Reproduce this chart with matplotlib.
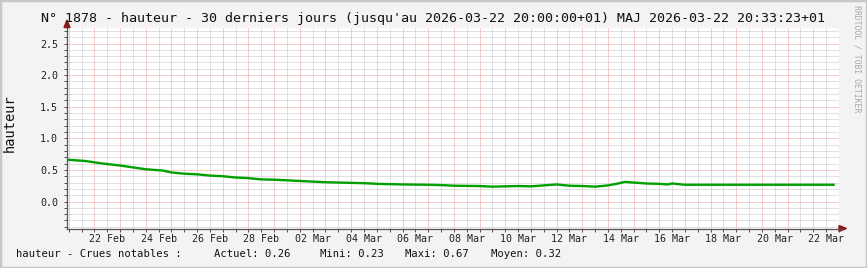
import datetime as dt

import matplotlib
matplotlib.use("Agg")
import matplotlib.pyplot as plt
import matplotlib.dates as mdates
from matplotlib.patches import Polygon, Rectangle
from matplotlib.ticker import MultipleLocator, FuncFormatter

# water level readings (local time)
times = [
    "2026-02-20 20:00", "2026-02-21 00:00", "2026-02-21 08:00", "2026-02-21 16:00",
    "2026-02-22 00:00", "2026-02-22 08:00", "2026-02-22 16:00", "2026-02-23 00:00",
    "2026-02-23 08:00", "2026-02-23 16:00", "2026-02-24 00:00", "2026-02-24 08:00",
    "2026-02-24 16:00", "2026-02-25 00:00", "2026-02-25 12:00", "2026-02-26 00:00",
    "2026-02-26 12:00", "2026-02-27 00:00", "2026-02-27 12:00", "2026-02-28 00:00",
    "2026-02-28 12:00", "2026-03-01 00:00", "2026-03-01 12:00", "2026-03-02 00:00",
    "2026-03-02 12:00", "2026-03-03 00:00", "2026-03-03 12:00", "2026-03-04 00:00",
    "2026-03-04 12:00", "2026-03-05 00:00", "2026-03-05 12:00", "2026-03-06 00:00",
    "2026-03-07 00:00", "2026-03-07 12:00", "2026-03-08 00:00", "2026-03-09 00:00",
    "2026-03-09 12:00", "2026-03-10 00:00", "2026-03-10 12:00", "2026-03-11 00:00",
    "2026-03-11 12:00", "2026-03-12 00:00", "2026-03-12 12:00", "2026-03-13 00:00",
    "2026-03-13 12:00", "2026-03-14 00:00", "2026-03-14 08:00", "2026-03-14 16:00",
    "2026-03-15 00:00", "2026-03-15 12:00", "2026-03-16 00:00", "2026-03-16 08:00",
    "2026-03-16 12:00", "2026-03-17 00:00", "2026-03-22 20:00",
]
hauteur = [
    0.67, 0.66, 0.65, 0.64,
    0.62, 0.60, 0.585, 0.57,
    0.55, 0.53, 0.51, 0.50,
    0.49, 0.46, 0.44, 0.43,
    0.41, 0.40, 0.38, 0.37,
    0.35, 0.345, 0.335, 0.325,
    0.315, 0.305, 0.30, 0.295,
    0.29, 0.28, 0.275, 0.27,
    0.265, 0.26, 0.25, 0.245,
    0.235, 0.24, 0.245, 0.24,
    0.255, 0.27, 0.25, 0.245,
    0.235, 0.255, 0.28, 0.31,
    0.30, 0.285, 0.28, 0.27,
    0.285, 0.265, 0.265,
]
stats_labels = ["Actuel: 0.26", "Mini: 0.23", "Maxi: 0.67", "Moyen: 0.32"]

W, H = 867, 268
MONO = "DejaVu Sans Mono"
BG = "#F3F3F3"


def fx(x):
    return x / W


def fy(y):
    return 1 - y / H


t = [dt.datetime.strptime(s, "%Y-%m-%d %H:%M") for s in times]

fig = plt.figure(figsize=(W / 100, H / 100), dpi=100, facecolor=BG)
ax = fig.add_axes([fx(67), fy(228.5), (839 - 67) / W, (228.5 - 27.7) / H])
ax.set_facecolor("white")

ax.plot(t, hauteur, color="#00A000", lw=1.7, solid_capstyle="butt", zorder=3)

ax.set_xlim(dt.datetime(2026, 2, 20, 22, 24), dt.datetime(2026, 3, 23, 0, 0))
ax.set_ylim(-0.427, 2.75)

# grid: red every day / 0.5, grey every 12h / 0.1
ax.xaxis.set_major_locator(mdates.HourLocator(byhour=[0]))
ax.xaxis.set_minor_locator(mdates.HourLocator(byhour=[12]))
ax.xaxis.set_major_formatter(FuncFormatter(lambda v, p: ""))


def day_label(v, p):
    d = mdates.num2date(v)
    return d.strftime("%d %b") if d.day % 2 == 0 else ""


ax.xaxis.set_minor_formatter(FuncFormatter(day_label))
ax.yaxis.set_major_locator(MultipleLocator(0.5))
ax.yaxis.set_minor_locator(MultipleLocator(0.1))
ax.yaxis.set_major_formatter(FuncFormatter(lambda v, p: f"{v:.1f}"))

dots = (0, (1, 1))
ax.grid(which="minor", color="#C4C4C4", lw=0.72, ls=dots)
ax.grid(which="major", color="#F09A9A", lw=0.72, ls=dots)
ax.set_axisbelow(True)

ax.tick_params(which="both", direction="out", length=2, width=0.72, color="#505050")
ax.tick_params(axis="x", which="minor", labelsize=7.2, pad=2.2, labelcolor="#222222")
ax.tick_params(axis="y", which="major", labelsize=7.2, pad=4.5, labelcolor="#222222")
for lab in ax.get_xticklabels(minor=True) + ax.get_yticklabels():
    lab.set_family(MONO)

for side in ("top", "right"):
    ax.spines[side].set_visible(False)
for side in ("left", "bottom"):
    ax.spines[side].set_color("#555555")
    ax.spines[side].set_linewidth(0.9)

# axis arrows
fig.patches.append(Polygon([[fx(64), fy(27.5)], [fx(70), fy(27.5)], [fx(67), fy(20)]],
                           closed=True, transform=fig.transFigure, color="#8B1A1A"))
fig.add_artist(plt.Line2D([fx(839), fx(842)], [fy(228.5), fy(228.5)],
                          transform=fig.transFigure, color="#555555", lw=0.9))
fig.patches.append(Polygon([[fx(839), fy(225.5)], [fx(839), fy(231.5)], [fx(846.5), fy(228.5)]],
                           closed=True, transform=fig.transFigure, color="#8B1A1A"))

# texts
fig.text(fx(433), fy(22), "N° 1878 - hauteur - 30 derniers jours (jusqu'au 2026-03-22 20:00:00+01) "
         "MAJ 2026-03-22 20:33:23+01", family=MONO, fontsize=9.6, ha="center",
         va="baseline", color="#111111")
fig.text(fx(10), fy(123), "hauteur", family=MONO, fontsize=9.8, rotation=90,
         ha="center", va="center", color="#111111")
fig.text(fx(857), fy(5), "RRDTOOL / TOBI OETIKER", family=MONO, fontsize=5.9,
         rotation=270, ha="center", va="top", color="#A8A8A8")

fig.text(fx(16), fy(257), "hauteur - Crues notables :", family=MONO, fontsize=7.6,
         va="baseline", color="#111111")
for xpos, s in zip([214, 320, 405, 491], stats_labels):
    fig.text(fx(xpos), fy(257), s, family=MONO, fontsize=7.6, va="baseline", color="#111111")

# canvas border
fig.patches.append(Rectangle((0, 0), 1, 1, transform=fig.transFigure, fill=False,
                             ec="#C8C8C8", lw=2.5))

fig.savefig("out.png", dpi=100, facecolor=BG)
